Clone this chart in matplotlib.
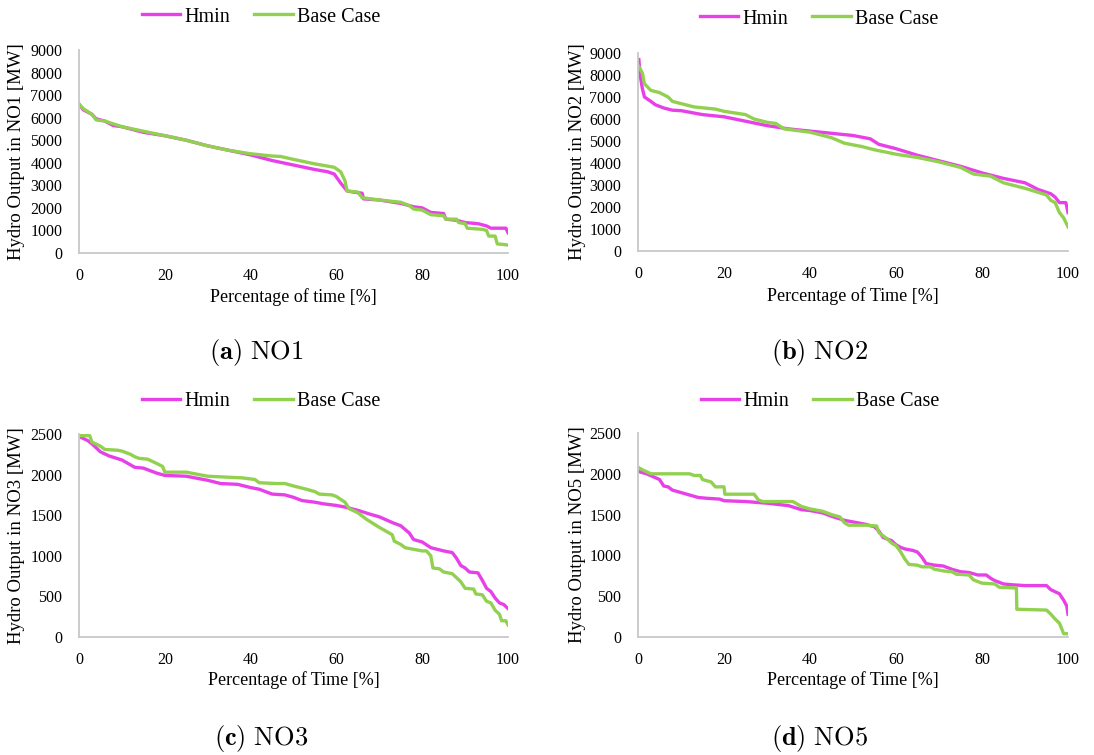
import matplotlib
matplotlib.use("Agg")
import matplotlib.pyplot as plt
from matplotlib.lines import Line2D

# ---------------- data ----------------
no1_hmin_x = [0, 1, 3, 4, 6, 8, 10, 15, 20, 25, 30, 35, 40, 45, 50, 55, 58, 59.5, 61, 62.5, 64, 66, 66.3, 70, 75, 78, 80, 82, 85, 85.5, 88, 90, 93, 95, 96, 99, 99.5, 100]
no1_hmin_y = [6600, 6350, 6150, 5950, 5850, 5650, 5600, 5350, 5200, 5000, 4750, 4550, 4350, 4100, 3900, 3700, 3600, 3500, 3100, 2750, 2700, 2650, 2400, 2350, 2200, 2050, 2000, 1800, 1750, 1500, 1450, 1350, 1300, 1200, 1100, 1100, 1100, 900]
no1_base_x = [0, 1, 3, 4, 6, 10, 15, 20, 25, 30, 35, 40, 45, 47, 50, 55, 58, 59.5, 61, 62, 62.5, 65, 66, 70, 75, 77, 78, 80, 82, 85, 85.5, 88, 88.5, 90, 90.5, 94, 95, 95.5, 97, 97.5, 99, 100]
no1_base_y = [6600, 6400, 6150, 5900, 5850, 5600, 5400, 5200, 5000, 4750, 4550, 4400, 4300, 4280, 4150, 3950, 3850, 3800, 3600, 3200, 2750, 2700, 2450, 2350, 2250, 2100, 1950, 1900, 1700, 1650, 1500, 1500, 1350, 1300, 1100, 1050, 1000, 750, 750, 400, 380, 350]

no2_hmin_x = [0.2, 0.5, 1, 1.5, 3, 4, 6, 8, 10, 15, 20, 25, 30, 35, 40, 45, 50, 54, 56, 60, 65, 70, 75, 80, 85, 90, 93, 96, 97, 98, 99.5, 100]
no2_hmin_y = [8700, 8000, 7400, 7000, 6800, 6650, 6500, 6400, 6380, 6200, 6100, 5900, 5700, 5550, 5450, 5350, 5250, 5100, 4850, 4650, 4350, 4100, 3850, 3550, 3300, 3100, 2800, 2600, 2450, 2200, 2200, 1750]
no2_base_x = [0, 1, 1.5, 3, 5, 7, 8, 10, 13, 18, 20, 25, 27, 30, 32, 34, 40, 45, 48, 52, 55, 60, 65, 70, 75, 78, 82, 85, 90, 95, 96, 97, 98, 99, 100]
no2_base_y = [8450, 8100, 7600, 7300, 7200, 7000, 6800, 6700, 6550, 6450, 6350, 6200, 6000, 5850, 5800, 5550, 5400, 5150, 4900, 4750, 4600, 4400, 4250, 4050, 3800, 3500, 3400, 3100, 2850, 2550, 2300, 2200, 1750, 1500, 1100]

no3_hmin_x = [0, 2, 3, 5, 7, 10, 13, 15, 18, 20, 25, 30, 33, 37, 40, 42, 45, 48, 50, 52, 55, 57, 60, 62, 65, 68, 70, 73, 75, 77, 78, 80, 82, 85, 87, 88, 89, 90, 91, 93, 94, 95, 96, 97, 98, 99, 100]
no3_hmin_y = [2470, 2420, 2380, 2280, 2230, 2180, 2090, 2080, 2020, 1990, 1980, 1930, 1890, 1880, 1840, 1820, 1760, 1750, 1720, 1680, 1660, 1640, 1620, 1600, 1560, 1510, 1480, 1410, 1370, 1280, 1200, 1170, 1100, 1060, 1040, 970, 880, 850, 800, 790, 700, 600, 560, 480, 420, 400, 350]
no3_base_x = [0, 2.5, 3, 5, 6, 9, 10, 12, 13, 14, 16, 18, 19.5, 20, 25, 28, 30, 34, 38, 41, 42, 46, 48, 50, 53, 55, 56, 59, 60, 62, 63, 65, 67, 70, 72, 73, 73.5, 75, 76, 78, 80, 81, 82, 82.5, 84, 85, 87, 88, 89, 90, 92, 92.5, 94, 95, 96, 97, 98, 98.5, 99.5, 100]
no3_base_y = [2480, 2480, 2400, 2350, 2310, 2300, 2290, 2250, 2220, 2200, 2190, 2140, 2100, 2030, 2030, 2000, 1980, 1970, 1960, 1940, 1900, 1890, 1890, 1860, 1820, 1790, 1760, 1750, 1730, 1660, 1580, 1530, 1450, 1350, 1290, 1260, 1180, 1140, 1100, 1080, 1060, 1060, 1000, 850, 840, 800, 780, 730, 680, 600, 590, 530, 520, 440, 420, 330, 280, 200, 200, 150]

no5_hmin_x = [0, 2, 5, 6, 7, 8, 10, 12, 14, 16, 19, 20, 25, 30, 35, 38, 40, 43, 45, 48, 50, 53, 55, 56, 57, 59, 60, 61, 62, 64, 65, 66, 67, 69, 71, 73, 75, 77, 79, 81, 82, 83, 85, 87, 90, 95, 96, 98, 99, 99.7, 100]
no5_hmin_y = [2030, 2000, 1930, 1850, 1840, 1800, 1770, 1740, 1710, 1700, 1690, 1670, 1660, 1640, 1610, 1560, 1550, 1520, 1480, 1430, 1410, 1380, 1350, 1300, 1220, 1180, 1130, 1100, 1080, 1060, 1040, 980, 900, 880, 870, 830, 800, 790, 760, 760, 720, 690, 650, 640, 630, 630, 580, 530, 450, 380, 280]
no5_base_x = [0, 1, 3, 12, 13, 14.5, 15, 17, 18, 20, 20.2, 27, 28, 29, 36, 38, 40, 43, 45, 47, 48, 49, 53, 55.5, 56, 57, 58, 59, 60, 61, 62, 63, 65, 66, 68, 69, 71, 73, 74, 77, 78, 80, 83, 84, 88, 88.1, 95, 96, 97, 98, 99, 100]
no5_base_y = [2080, 2050, 2000, 2000, 1980, 1980, 1930, 1900, 1840, 1840, 1750, 1750, 1680, 1660, 1660, 1600, 1570, 1540, 1500, 1470, 1400, 1370, 1370, 1360, 1280, 1240, 1200, 1150, 1120, 1050, 960, 890, 880, 860, 860, 830, 810, 800, 770, 760, 700, 660, 650, 610, 600, 340, 330, 280, 220, 170, 40, 40]

series_names = ["Hmin", "Base Case"]
region_names = ["NO1", "NO2", "NO3", "NO5"]
caption_letters = ["a", "b", "c", "d"]
xlabels = ["Percentage of time [%]", "Percentage of Time [%]", "Percentage of Time [%]", "Percentage of Time [%]"]
x_ticks = [0, 20, 40, 60, 80, 100]
y_ticks_big = [0, 1000, 2000, 3000, 4000, 5000, 6000, 7000, 8000, 9000]
y_ticks_small = [0, 500, 1000, 1500, 2000, 2500]

# ---------------- style ----------------
plt.rcParams['font.family'] = ['Liberation Serif', 'DejaVu Serif']
plt.rcParams['mathtext.fontset'] = 'cm'
MAG = '#E840E8'
GRN = '#92D050'
SPINE = '#C8C8C8'
W, H = 1094, 755

fig = plt.figure(figsize=(W / 100, H / 100), dpi=100)

def px_axes(l, r, t, b):
    return fig.add_axes([l / W, 1 - b / H, (r - l) / W, (b - t) / H])

panels = [
    dict(box=(79, 508, 50, 253), hx=no1_hmin_x, hy=no1_hmin_y, bx=no1_base_x, by=no1_base_y,
         yt=y_ticks_big, leg=(261, 17), cap=(256, 352), ylab_x=17, xlab_y=297),
    dict(box=(638, 1068, 53, 251), hx=no2_hmin_x, hy=no2_hmin_y, bx=no2_base_x, by=no2_base_y,
         yt=y_ticks_big, leg=(819, 19), cap=(820, 352), ylab_x=577, xlab_y=296),
    dict(box=(79, 508, 434, 637), hx=no3_hmin_x, hy=no3_hmin_y, bx=no3_base_x, by=no3_base_y,
         yt=y_ticks_small, leg=(261, 401), cap=(261, 738), ylab_x=17, xlab_y=680),
    dict(box=(638, 1068, 433, 637), hx=no5_hmin_x, hy=no5_hmin_y, bx=no5_base_x, by=no5_base_y,
         yt=y_ticks_small, leg=(820, 401), cap=(820, 738), ylab_x=577, xlab_y=680),
]

for i, p in enumerate(panels):
    l, r, t, b = p['box']
    ax = px_axes(l, r, t, b)
    ax.plot(p['hx'], p['hy'], color=MAG, lw=2.4, solid_joinstyle='round')
    ax.plot(p['bx'], p['by'], color=GRN, lw=2.4, solid_joinstyle='round')
    ax.set_xlim(0, 100)
    ax.set_ylim(p['yt'][0], p['yt'][-1])
    ax.set_xticks(x_ticks)
    ax.set_yticks(p['yt'])
    for s in ['top', 'right']:
        ax.spines[s].set_visible(False)
    for s in ['left', 'bottom']:
        ax.spines[s].set_color(SPINE)
        ax.spines[s].set_linewidth(1.3)
    ax.tick_params(axis='x', length=0, pad=11, labelsize=11.5)
    ax.tick_params(axis='y', length=0, pad=12, labelsize=11.5)
    ax.set_xlabel(xlabels[i], fontsize=13)
    ax.set_ylabel(f"Hydro Output in {region_names[i]} [MW]", fontsize=13.5)
    ax.xaxis.set_label_coords(0.5, -(p['xlab_y'] - b) / (b - t), transform=ax.transAxes)
    ax.xaxis.label.set_va('center')
    ax.yaxis.set_label_coords(-(l - p['ylab_x']) / (r - l), 0.5, transform=ax.transAxes)
    ax.yaxis.label.set_va('center')

    handles = [Line2D([], [], color=MAG, lw=2.4), Line2D([], [], color=GRN, lw=2.4)]
    lx, ly = p['leg']
    fig.legend(handles, series_names, loc='center', bbox_to_anchor=(lx / W, 1 - ly / H),
               ncol=2, frameon=False, fontsize=14.5, handlelength=1.9, handletextpad=0.2,
               columnspacing=1.2, borderpad=0)

    cx, cy = p['cap']
    fig.text(cx / W, 1 - cy / H, r'$\mathbf{(%s)}\ \mathrm{%s}$' % (caption_letters[i], region_names[i]),
             ha='center', va='center', fontsize=19)

fig.savefig('out.png', dpi=100)
